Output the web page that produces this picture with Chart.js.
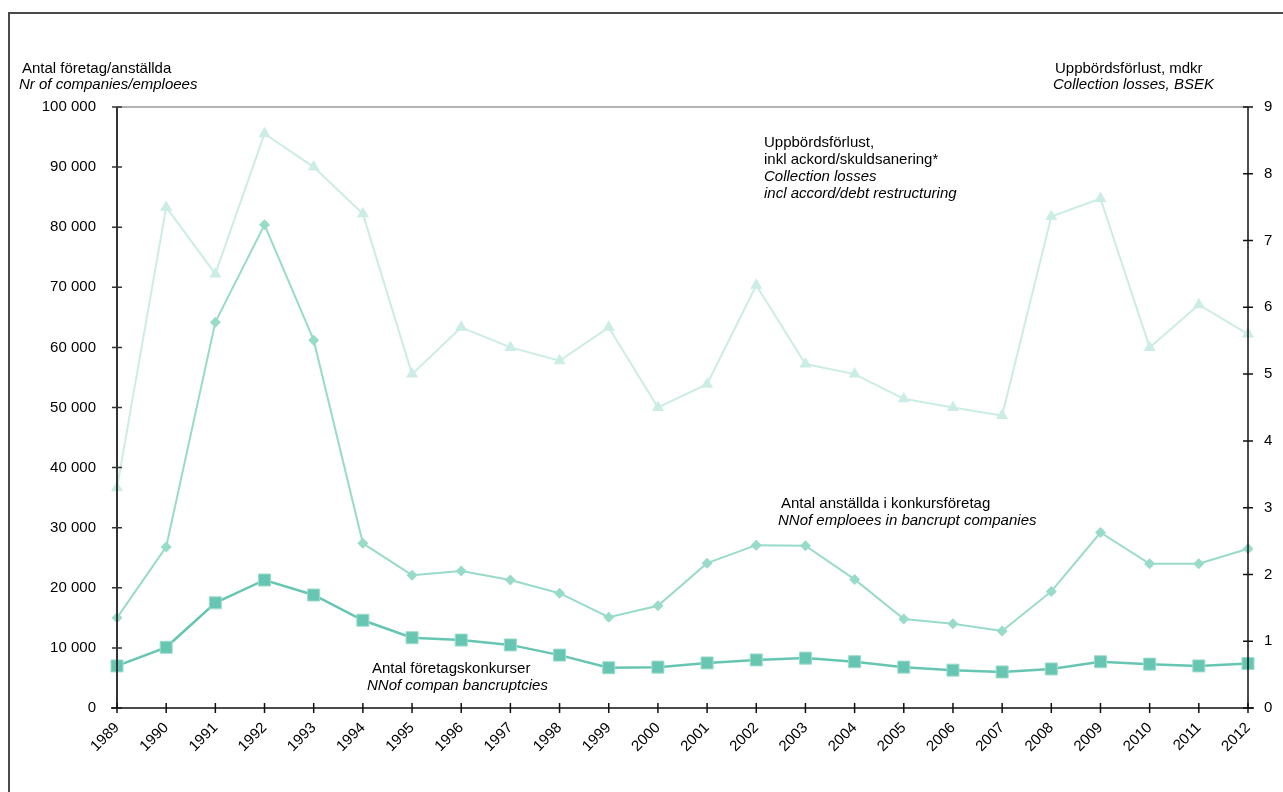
<!DOCTYPE html>
<html>
<head>
<meta charset="utf-8">
<script src="https://cdn.jsdelivr.net/npm/chart.js@4.4.0/dist/chart.umd.min.js"></script>
<style>
  html, body { margin: 0; padding: 0; background: #fff; }
  #wrap { position: relative; width: 1283px; height: 792px; overflow: hidden; }
  #frame { position: absolute; left: 8px; top: 12px; width: 1400px; height: 900px;
           border-left: 2px solid #4a4a4a; border-top: 2px solid #4a4a4a; }
  canvas { position: absolute; left: 0; top: 0; }
</style>
</head>
<body>
<div id="wrap">
  <div id="frame"></div>
  <canvas id="chart" width="1283" height="792"></canvas>
</div>
<script>
const years = ["1989","1990","1991","1992","1993","1994","1995","1996","1997","1998","1999","2000",
               "2001","2002","2003","2004","2005","2006","2007","2008","2009","2010","2011","2012"];

// Antal företagskonkurser (left axis)
const bankruptcies = [7000, 10100, 17500, 21300, 18800, 14600, 11700, 11300, 10500, 8800, 6700, 6800,
                      7500, 8000, 8300, 7700, 6800, 6300, 6000, 6500, 7700, 7300, 7000, 7400];

// Antal anställda i konkursföretag (left axis)
const employees = [15000, 26800, 64200, 80400, 61200, 27400, 22100, 22800, 21300, 19100, 15100, 17000,
                   24100, 27100, 27000, 21400, 14800, 14000, 12800, 19400, 29200, 24000, 24000, 26500];

// Uppbördsförlust, mdkr (right axis)
const collectionLosses = [3.3, 7.5, 6.5, 8.6, 8.1, 7.4, 5.0, 5.7, 5.4, 5.2, 5.7, 4.5,
                          4.85, 6.33, 5.15, 5.0, 4.63, 4.5, 4.38, 7.36, 7.63, 5.4, 6.04, 5.6];

const leftTicks = [0, 10000, 20000, 30000, 40000, 50000, 60000, 70000, 80000, 90000, 100000];
const rightTicks = [0, 1, 2, 3, 4, 5, 6, 7, 8, 9];

const FONT = "Liberation Sans, Arial, sans-serif";

function fmtThousands(v) {
  return String(v).replace(/\B(?=(\d{3})+(?!\d))/g, " ");
}

// axis lines with ticks that cross the line, plus grey top border
const axisPlugin = {
  id: "axisLines",
  afterDatasetsDraw(chart) {
    const { ctx, chartArea: a, scales } = chart;
    ctx.save();
    ctx.lineCap = "butt";

    ctx.strokeStyle = "#999";
    ctx.lineWidth = 1.5;
    ctx.beginPath();
    ctx.moveTo(a.left, a.top);
    ctx.lineTo(a.right, a.top);
    ctx.stroke();

    ctx.strokeStyle = "#333";
    ctx.lineWidth = 2;
    ctx.beginPath();
    ctx.moveTo(a.left, a.top);
    ctx.lineTo(a.left, a.bottom);
    ctx.stroke();
    ctx.lineWidth = 1.5;
    ctx.beginPath();
    leftTicks.forEach(v => {
      const y = scales.y.getPixelForValue(v);
      ctx.moveTo(a.left - 5, y);
      ctx.lineTo(a.left + 5, y);
    });
    ctx.stroke();

    ctx.strokeStyle = "#111";
    ctx.lineWidth = 1.5;
    ctx.beginPath();
    ctx.moveTo(a.right, a.top);
    ctx.lineTo(a.right, a.bottom);
    rightTicks.forEach(v => {
      const y = scales.y2.getPixelForValue(v);
      ctx.moveTo(a.right - 5, y);
      ctx.lineTo(a.right + 5, y);
    });
    ctx.stroke();

    ctx.beginPath();
    ctx.moveTo(a.left - 6, a.bottom);
    ctx.lineTo(a.right + 6, a.bottom);
    years.forEach((yr, i) => {
      const x = scales.x.getPixelForValue(i);
      ctx.moveTo(x, a.bottom - 5);
      ctx.lineTo(x, a.bottom + 5);
    });
    ctx.stroke();
    ctx.restore();
  }
};

// axis titles and series labels
const textPlugin = {
  id: "notes",
  afterDraw(chart) {
    const ctx = chart.ctx;
    ctx.save();
    ctx.fillStyle = "#000";
    ctx.textBaseline = "alphabetic";
    const put = (txt, x, y, italic, align) => {
      ctx.font = (italic ? "italic " : "") + "15px " + FONT;
      ctx.textAlign = align || "left";
      ctx.fillText(txt, x, y);
    };
    put("Antal företag/anställda", 22, 73);
    put("Nr of companies/emploees", 19, 89, true);
    put("Uppbördsförlust, mdkr", 1055, 73);
    put("Collection losses, BSEK", 1053, 89, true);

    put("Uppbördsförlust,", 764, 147);
    put("inkl ackord/skuldsanering*", 764, 164);
    put("Collection losses", 764, 181, true);
    put("incl accord/debt restructuring", 764, 198, true);

    put("Antal anställda i konkursföretag", 781, 508);
    put("NNof emploees in bancrupt companies", 778, 525, true);

    put("Antal företagskonkurser", 372, 673);
    put("NNof compan bancruptcies", 367, 690, true);
    ctx.restore();
  }
};

new Chart(document.getElementById("chart"), {
  type: "line",
  data: {
    labels: years,
    datasets: [
      {
        label: "Antal företagskonkurser",
        data: bankruptcies,
        yAxisID: "y",
        borderColor: "#66c6b2",
        backgroundColor: "#66c6b2",
        borderWidth: 2.5,
        pointStyle: "rect",
        pointRadius: 8.5,
        pointBorderWidth: 1,
        pointBorderColor: "#9fdccd",
        pointBackgroundColor: "#66c6b2",
        tension: 0,
        order: 1
      },
      {
        label: "Antal anställda i konkursföretag",
        data: employees,
        yAxisID: "y",
        borderColor: "#98dbc9",
        backgroundColor: "#98dbc9",
        borderWidth: 2,
        pointStyle: "rectRot",
        pointRadius: 5.5,
        pointBorderWidth: 0,
        pointBackgroundColor: "#98dbc9",
        tension: 0,
        order: 2
      },
      {
        label: "Uppbördsförlust",
        data: collectionLosses,
        yAxisID: "y2",
        borderColor: "#cbede5",
        backgroundColor: "#cbede5",
        borderWidth: 2,
        pointStyle: "triangle",
        pointRadius: 7,
        pointBorderWidth: 0,
        pointBackgroundColor: "#cbede5",
        tension: 0,
        order: 3
      }
    ]
  },
  options: {
    responsive: false,
    animation: false,
    devicePixelRatio: 1,
    layout: { padding: { top: 107, left: 0, right: 0, bottom: 0 } },
    plugins: { legend: { display: false }, tooltip: { enabled: false } },
    scales: {
      x: {
        grid: { display: false },
        border: { display: false },
        ticks: {
          autoSkip: false,
          maxRotation: 45,
          minRotation: 45,
          padding: 3,
          color: "#000",
          font: { family: FONT, size: 15 }
        },
        afterFit: s => { s.height = 84; }
      },
      y: {
        position: "left",
        min: 0,
        max: 100000,
        grid: { display: false },
        border: { display: false },
        ticks: {
          stepSize: 10000,
          padding: 13,
          color: "#000",
          font: { family: FONT, size: 15 },
          callback: v => fmtThousands(v)
        },
        afterFit: s => { s.width = 117; }
      },
      y2: {
        position: "right",
        min: 0,
        max: 9,
        grid: { display: false },
        border: { display: false },
        ticks: {
          stepSize: 1,
          padding: 8,
          color: "#000",
          font: { family: FONT, size: 15 }
        },
        afterFit: s => { s.width = 35; }
      }
    }
  },
  plugins: [axisPlugin, textPlugin]
});
</script>
</body>
</html>
